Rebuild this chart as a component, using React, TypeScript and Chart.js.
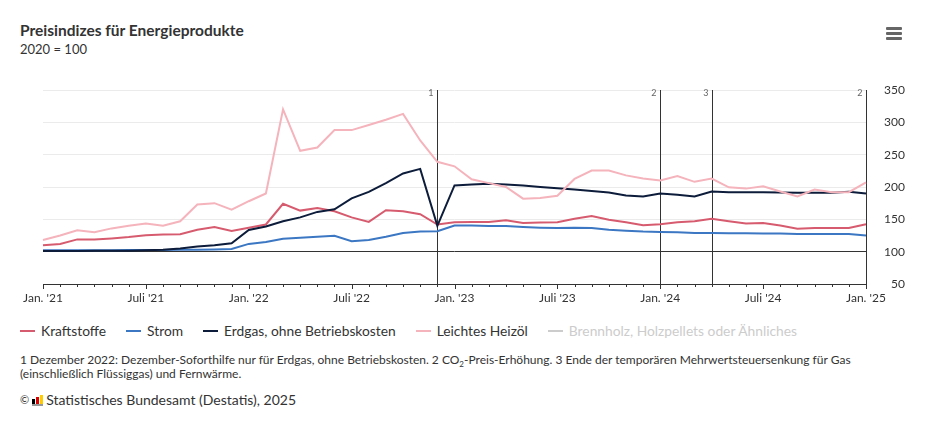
import React, { useEffect, useRef } from "react";
import { Chart, registerables } from "chart.js";

Chart.register(...registerables);

const months: string[] = [
  "Jan. '21", "Feb. '21", "März '21", "Apr. '21", "Mai '21", "Juni '21", "Juli '21", "Aug. '21", "Sep. '21", "Okt. '21", "Nov. '21", "Dez. '21",
  "Jan. '22", "Feb. '22", "März '22", "Apr. '22", "Mai '22", "Juni '22", "Juli '22", "Aug. '22", "Sep. '22", "Okt. '22", "Nov. '22", "Dez. '22",
  "Jan. '23", "Feb. '23", "März '23", "Apr. '23", "Mai '23", "Juni '23", "Juli '23", "Aug. '23", "Sep. '23", "Okt. '23", "Nov. '23", "Dez. '23",
  "Jan. '24", "Feb. '24", "März '24", "Apr. '24", "Mai '24", "Juni '24", "Juli '24", "Aug. '24", "Sep. '24", "Okt. '24", "Nov. '24", "Dez. '24",
  "Jan. '25",
];

const kraftstoffe: number[] = [
  110, 112, 119, 119, 120.5, 122.5, 125.5, 126.5, 127, 134, 138, 132,
  137, 142, 174, 163.5, 167.5, 162.5, 153, 146, 164, 162.5, 158, 142,
  145.5, 146, 146, 148.5, 144.5, 145, 145.5, 151, 155, 149.5, 145.5, 141,
  142.5, 145.5, 147, 151, 147, 143.5, 144.5, 140.5, 135.5, 136.5, 136.5, 136.5,
  142.5,
];

const strom: number[] = [
  102, 102, 102, 102, 102, 102.5, 102.5, 102.5, 103, 103, 103.5, 104,
  112, 115, 120, 121.5, 123, 124.5, 116.3, 118, 123, 129, 131, 131.5,
  140.5, 140.5, 139.5, 139.5, 138, 137, 136.5, 137, 136.5, 134, 132.5, 131,
  130.5, 130, 129, 129, 128.5, 128.5, 128, 128, 127.5, 127.5, 127.5, 127.5,
  125,
];

const erdgas: number[] = [
  101, 101, 101, 101.5, 101.5, 101.5, 102, 103, 105, 108, 110, 113,
  133.5, 139, 147, 153, 161.5, 165.5, 182.5, 192.5, 206, 221, 228, 140,
  202.5, 204, 205, 204, 202.5, 200, 198, 196, 194, 191.5, 187, 185.5,
  190, 188, 185.5, 193, 192, 192, 192, 191.5, 191, 191, 191, 192.5,
  190,
];

const heizoel: number[] = [
  118, 125, 133, 130, 136, 140, 143.5, 140, 147, 173, 175, 165,
  178, 190, 320, 256, 261, 288, 288, 296, 304, 313, 272, 239,
  232, 212, 206, 200, 182, 183, 186.5, 212.5, 225.5, 225.5, 218, 213,
  210, 217, 208, 213, 199.5, 197.5, 201, 193, 185.5, 196, 192, 192,
  207,
];

const seriesNames: string[] = ["Kraftstoffe", "Strom", "Erdgas, ohne Betriebskosten", "Leichtes Heizöl", "Brennholz, Holzpellets oder Ähnliches"];
const seriesColors: string[] = ["#d75b6e", "#3b77c3", "#0c1c3a", "#f5b3bc", "#cccccc"];
const seriesHidden: boolean[] = [false, false, false, false, true];

const yTicks: number[] = [50, 100, 150, 200, 250, 300, 350];

const eventMonths: string[] = ["Dez. '22", "Jan. '24", "Apr. '24", "Jan. '25"];
const eventLabels: string[] = ["1", "2", "3", "2"];

const FONT = "Lato, 'Source Sans Pro', sans-serif";

const eventPlugin = {
  id: "eventLines",
  beforeDatasetsDraw(chart: any) {
    const { ctx, chartArea, scales } = chart;
    const x = scales.x;
    ctx.save();
    eventMonths.forEach((m, i) => {
      const px = Math.round(x.getPixelForValue(months.indexOf(m))) + 0.5;
      ctx.strokeStyle = "#333333";
      ctx.lineWidth = 1;
      ctx.beginPath();
      ctx.moveTo(px, chartArea.top);
      ctx.lineTo(px, chartArea.bottom);
      ctx.stroke();
      ctx.fillStyle = "#666666";
      ctx.font = "9px " + FONT;
      ctx.textAlign = "right";
      ctx.textBaseline = "top";
      ctx.fillText(eventLabels[i], px - 4, chartArea.top - 1);
    });
    ctx.restore();
  },
  afterDraw(chart: any) {
    const { ctx, chartArea, scales } = chart;
    const x = scales.x;
    ctx.save();
    ctx.strokeStyle = "#333333";
    ctx.lineWidth = 1;
    months.forEach((m, i) => {
      const px = Math.round(x.getPixelForValue(i)) + 0.5;
      const len = i % 6 === 0 ? 5 : 3;
      ctx.beginPath();
      ctx.moveTo(px, chartArea.bottom);
      ctx.lineTo(px, chartArea.bottom + len);
      ctx.stroke();
    });
    ctx.restore();
  },
};

function LineChart() {
  const ref = useRef<HTMLCanvasElement>(null);
  useEffect(() => {
    if (!ref.current) return;
    const data = [kraftstoffe, strom, erdgas, heizoel];
    const chart = new Chart(ref.current, {
      type: "line",
      data: {
        labels: months,
        datasets: data.map((d, i) => ({
          label: seriesNames[i],
          data: d,
          borderColor: seriesColors[i],
          backgroundColor: seriesColors[i],
          borderWidth: 2,
          pointRadius: 0,
          tension: 0,
          order: 4 - i,
        })),
      },
      options: {
        animation: false,
        responsive: false,
        maintainAspectRatio: false,
        layout: { padding: { left: 35, right: 29, top: 12, bottom: 0 } },
        plugins: { legend: { display: false }, tooltip: { enabled: false } },
        scales: {
          x: {
            type: "category",
            offset: false,
            grid: { display: false, drawTicks: false },
            border: { display: true, color: "#333333", width: 1 },
            ticks: {
              autoSkip: false,
              maxRotation: 0,
              padding: 7,
              color: "#333333",
              font: { family: FONT, size: 12 },
              callback: (v: any, i: number) => (i % 6 === 0 ? months[i] : ""),
            },
            afterFit: (s: any) => { s.height = 28; },
          },
          y: {
            position: "right",
            min: 50,
            max: 350,
            afterBuildTicks: (s: any) => { s.ticks = yTicks.map((v) => ({ value: v })); },
            border: { display: false },
            grid: {
              drawTicks: false,
              color: (c: any) => (c.tick && c.tick.value === 100 ? "#333333" : c.tick && c.tick.value === 50 ? "rgba(0,0,0,0)" : "#ebebeb"),
              lineWidth: 1,
            },
            ticks: {
              crossAlign: "far",
              padding: 18,
              color: "#333333",
              font: { family: FONT, size: 12 },
            },
            afterFit: (s: any) => { s.width = 39; s.paddingTop = 0; s.paddingBottom = 0; },
          },
        },
      },
      plugins: [eventPlugin],
    });
    return () => chart.destroy();
  }, []);
  return <canvas ref={ref} width={926} height={234} style={{ position: "absolute", left: 0, top: 70, width: 926, height: 234 }} />;
}

export default function App() {
  const text = { fontFamily: FONT, color: "#333333" } as React.CSSProperties;
  return (
    <div style={{ position: "relative", width: 926, height: 423, ...text }}>
      <div style={{ position: "absolute", left: 12, top: 12, fontSize: 15.5, fontWeight: 700, lineHeight: "20px" }}>Preisindizes für Energieprodukte</div>
      <div style={{ position: "absolute", left: 12, top: 33, fontSize: 13, lineHeight: "16px" }}>2020 = 100</div>
      <div style={{ position: "absolute", left: 878, top: 19 }}>
        {[0, 1, 2].map((i) => (
          <div key={i} style={{ width: 16, height: 3, background: "#666666", borderRadius: 1, marginBottom: 2 }} />
        ))}
      </div>
      <LineChart />
      <div style={{ position: "absolute", left: 12, top: 315, display: "flex", fontSize: 13.8, lineHeight: "16px" }}>
        {seriesNames.map((n, i) => (
          <div key={n} style={{ display: "flex", alignItems: "center", marginRight: 20, color: seriesHidden[i] ? "#cccccc" : "#333333" }}>
            <span style={{ display: "inline-block", width: 15, height: 2, background: seriesHidden[i] ? "#cccccc" : seriesColors[i], marginRight: 6 }} />
            <span>{n}</span>
          </div>
        ))}
      </div>
      <div style={{ position: "absolute", left: 12, top: 345, width: 880, fontSize: 12, lineHeight: "14px" }}>
        1 Dezember 2022: Dezember-Soforthilfe nur für Erdgas, ohne Betriebskosten. 2 CO<sub style={{ fontSize: 8, lineHeight: 0 }}>2</sub>-Preis-Erhöhung. 3 Ende der temporären Mehrwertsteuersenkung für Gas (einschließlich Flüssiggas) und Fernwärme.
      </div>
      <div style={{ position: "absolute", left: 12, top: 384, fontSize: 14, lineHeight: "16px", display: "flex", alignItems: "center" }}>
        <span style={{ fontSize: 11 }}>©</span>
        <span style={{ display: "inline-flex", alignItems: "flex-end", height: 10, margin: "0 3px 0 3px", borderBottom: "2px solid #999" }}>
          <span style={{ width: 3, height: 5, background: "#000", marginRight: 1 }} />
          <span style={{ width: 3, height: 7, background: "#d00", marginRight: 1 }} />
          <span style={{ width: 3, height: 9, background: "#fc0" }} />
        </span>
        <span>Statistisches Bundesamt (Destatis), 2025</span>
      </div>
    </div>
  );
}
